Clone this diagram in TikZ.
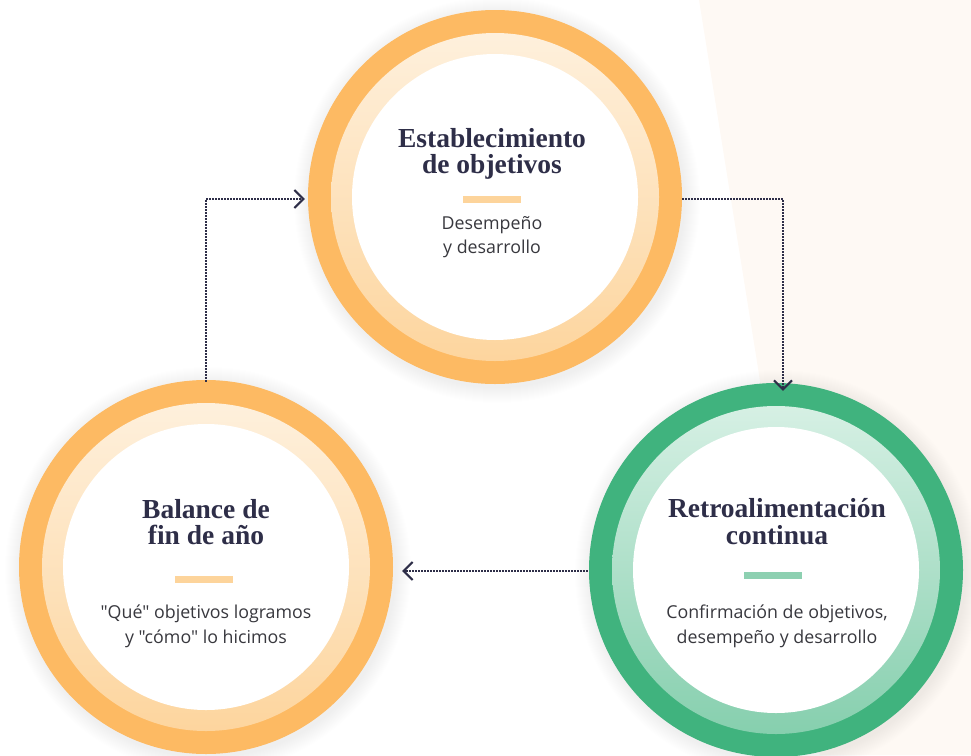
\documentclass[tikz,border=0pt]{standalone}
\usepackage{fontspec}
\setmainfont{Liberation Serif}
\newfontfamily\titlefont{Liberation Serif}
\newfontfamily\bodyfont{Open Sans}
\usetikzlibrary{arrows.meta}
\definecolor{bgpeach}{HTML}{FEF9F4}
\definecolor{orangeA}{HTML}{FDBA63}
\definecolor{orangeTop}{HTML}{FEF0DC}
\definecolor{orangeBot}{HTML}{FDD59E}
\definecolor{orangeBar}{HTML}{FDD49B}
\definecolor{greenA}{HTML}{40B37E}
\definecolor{greenTop}{HTML}{D6F0E4}
\definecolor{greenBot}{HTML}{86CFAE}
\definecolor{greenBar}{HTML}{8DD0B1}
\definecolor{navy}{HTML}{2E2E48}
\definecolor{bodygray}{HTML}{38383E}
\begin{document}
\begin{tikzpicture}[x=1pt,y=-1pt,
  outer/.style={circle,inner sep=0pt,minimum size=374pt},
  innerw/.style={circle,inner sep=0pt,minimum size=286pt,fill=white},
  ttl/.style={anchor=base,inner sep=0pt,text=navy,font=\titlefont\bfseries\fontsize{27.5}{27}\selectfont},
  bdy/.style={anchor=base,inner sep=0pt,text=bodygray,font=\bodyfont\fontsize{17.8}{20}\selectfont},
  bar/.style={rectangle,inner sep=0pt,minimum width=58pt,minimum height=7pt},
  conn/.style={draw=navy,line width=1.4pt,dash pattern=on 1.4pt off 1.6pt,
    -{Straight Barb[length=9pt,width=18pt,line width=2pt]}}
]
\useasboundingbox (0,0) rectangle (971,755);
\fill[bgpeach] (699,0) -- (971,0) -- (971,755) -- (820,755) -- cycle;

% shadows
\foreach \c in {(497,200),(208,570),(778,573)}{
  \foreach \i in {1,...,16}{
    \fill[black,opacity=0.005] \c circle[radius={187+\i}];
  }
}

% top circle
\node[outer,fill=orangeA] (top) at (495,197) {};
\shade[top color=orangeTop,bottom color=orangeBot] (top.center) circle[radius=164];
\node[innerw] (topin) at (top.center) {};

% left circle
\node[outer,fill=orangeA] (left) at (206,567) {};
\shade[top color=orangeTop,bottom color=orangeBot] (left.center) circle[radius=164];
\node[innerw] (leftin) at (left.center) {};

% right circle
\node[outer,fill=greenA] (right) at (776,570) {};
\shade[top color=greenTop,bottom color=greenBot] (right.center) circle[radius=164];
\node[innerw] (rightin) at (right.center) {};

% texts top
\node[ttl] (t1) at (492,147) {Establecimiento};
\node[ttl] (t2) at (492,173) {de objetivos};
\node[bar,fill=orangeBar] (tbar) at (492,199.5) {};
\node[bdy] (tb1) at (492,229) {Desempeño};
\node[bdy] (tb2) at (492,253) {y desarrollo};

% texts left
\node[ttl] (l1) at (206,518) {Balance de};
\node[ttl] (l2) at (206,544) {fin de año};
\node[bar,fill=orangeBar] (lbar) at (204,579) {};
\node[bdy] (lb1) at (206,618) {"Qué" objetivos logramos};
\node[bdy] (lb2) at (206,643) {y "cómo" lo hicimos};

% texts right
\node[ttl] (r1) at (777,517) {Retroalimentación};
\node[ttl] (r2) at (777,544) {continua};
\node[bar,fill=greenBar] (rbar) at (773,575.5) {};
\node[bdy] (rb1) at (777,618) {Confirmación de objetivos,};
\node[bdy] (rb2) at (777,643) {desempeño y desarrollo};

% connectors
\coordinate (c1) at ([yshift=-2pt]left.north);
\coordinate (c1e) at ([xshift=-3pt,yshift=-2pt]top.west);
\draw[conn] (c1) |- (c1e);
\coordinate (c2) at ([yshift=-2pt]top.east);
\coordinate (c2e) at ([xshift=7pt,yshift=-8pt]right.north);
\draw[conn] (c2) -| (c2e);
\coordinate (c3) at ([xshift=-1pt,yshift=-1pt]right.west);
\coordinate (c3e) at ([xshift=9pt]c3 -| left.east);
\draw[conn] (c3) -- (c3e);
\end{tikzpicture}
\end{document}
